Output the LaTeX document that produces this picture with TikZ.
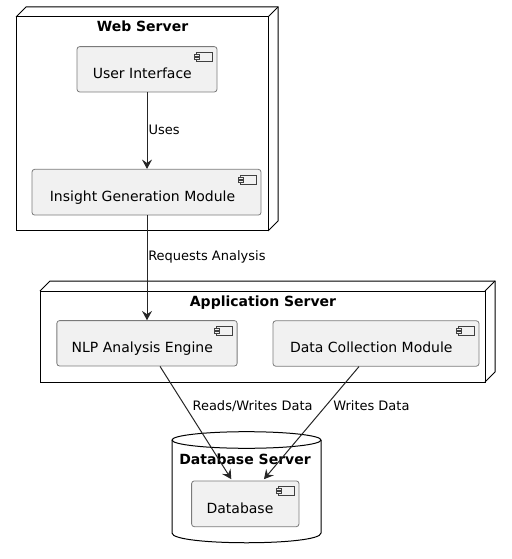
\documentclass[tikz,border=0pt]{standalone}
\usepackage{fontspec}
\setmainfont{DejaVu Sans}
\usetikzlibrary{arrows.meta}
\definecolor{compfill}{HTML}{F1F1F1}
\definecolor{compline}{HTML}{7A7A7A}
\tikzset{
  comp/.style={draw=compline, fill=compfill, line width=0.6pt, rounded corners=2pt,
    inner sep=0pt, text height=14.2pt, text depth=0pt,
    font=\fontsize{10.5pt}{12pt}\selectfont},
  ttl/.style={anchor=base, inner sep=0pt, font=\fontsize{10.5pt}{12pt}\selectfont\bfseries},
  elabel/.style={anchor=base west, inner sep=0pt, font=\fontsize{9.75pt}{11pt}\selectfont},
  conn/.style={draw=black!85, line width=0.75pt, -{Stealth[length=7pt,width=7.5pt,inset=2.5pt]}},
  frame/.style={draw=black, line width=0.75pt},
  compicon/.pic={
    \draw[line width=0.5pt, draw=black!75] (-21,6) rectangle (-5,15);
    \draw[line width=0.5pt, draw=black!75, fill=compfill] (-23,8) rectangle (-18,10) (-23,11) rectangle (-18,13);
  }
}
\begin{document}
\begin{tikzpicture}[x=0.75pt, y=-0.75pt]
\useasboundingbox (0,0) rectangle (511,559);
% Web Server node
\draw[frame] (16,17) -- (26,7) -- (278,7) -- (278,221) -- (268,231);
\draw[frame] (268,17) -- (278,7);
\draw[frame] (16,17) rectangle (268,231);
\node[ttl] (wst) at (142.5,32) {Web Server};
% Application Server node
\draw[frame] (40,291) -- (50,281) -- (495,281) -- (495,372) -- (485,382);
\draw[frame] (485,291) -- (495,281);
\draw[frame] (40,291) rectangle (485,382);
\node[ttl] (ast) at (263,306) {Application Server};
% Database Server cylinder
\draw[frame] (172,440) -- (172,533) .. controls (172,546) and (321,546) .. (321,533) -- (321,440);
\draw[frame] (246.5,440) ellipse [x radius=74.5, y radius=8.3];
\node[ttl] (dst) at (245,464) {Database Server};
% Components
\node[comp, minimum width=105pt, minimum height=34pt] (ui) at (147,69.3) {User Interface\rule{7pt}{0pt}};
\node[comp, minimum width=171.75pt, minimum height=34.3pt] (ig) at (146.5,192.2) {Insight Generation Module\rule{6pt}{0pt}};
\node[comp, minimum width=135.2pt, minimum height=34pt] (nlp) at (147,343.3) {NLP Analysis Engine\rule{7pt}{0pt}};
\node[comp, minimum width=154.5pt, minimum height=34pt] (dcm) at (376,343.5) {Data Collection Module\rule{7pt}{0pt}};
\node[comp, minimum width=80.5pt, minimum height=34.3pt] (db) at (245.3,503.8) {Database\rule{8pt}{0pt}};
\pic at (ui.north east) {compicon};
\pic at (ig.north east) {compicon};
\pic at (nlp.north east) {compicon};
\pic at (dcm.north east) {compicon};
\pic at (db.north east) {compicon};
% Connectors
\draw[conn] (ui.south) -- (ui.south |- ig.north);
\draw[conn] (nlp.north |- ig.south) -- (nlp.north);
\draw[conn] ([xshift=9.75pt]nlp.south) -- ([xshift=-10.5pt,yshift=1pt]db.north);
\draw[conn] ([xshift=-12.75pt]dcm.south) -- ([xshift=14pt,yshift=1pt]db.north);
% Connector labels
\node[elabel] (l1) at (148.3,134.5) {Uses};
\node[elabel] (l2) at (148,260) {Requests Analysis};
\node[elabel] (l3) at (192.3,410) {Reads/Writes Data};
\node[elabel] (l4) at (333,410) {Writes Data};
\end{tikzpicture}
\end{document}
